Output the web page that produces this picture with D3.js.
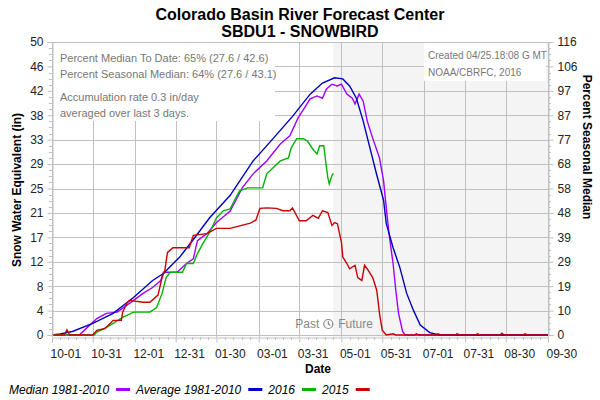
<!DOCTYPE html>
<html>
<head>
<meta charset="utf-8">
<script src="https://cdn.jsdelivr.net/npm/d3@7"></script>
<style>
  body { margin: 0; background: #fff; }
  svg { font-family: "Liberation Sans", Arial, sans-serif; }
</style>
</head>
<body>
<svg width="600" height="400"></svg>
<script>
// water year Oct 2015 - Sep 2016, dates as MM-DD
const xTickLabels = ["10-01", "10-31", "12-01", "12-31", "01-30", "03-01", "03-31",
  "05-01", "05-31", "07-01", "07-31", "08-30", "09-30"];
const leftTickLabels = ["0", "4", "8", "12", "17", "21", "25", "29", "33", "38", "42", "46", "50"];
const rightTickLabels = ["0", "10", "19", "29", "39", "48", "58", "68", "77", "87", "97", "106", "116"];

const seriesNames = ["Median 1981-2010", "Average 1981-2010", "2016", "2015"];
const seriesColors = ["#a000ff", "#0000c0", "#00b400", "#c80000"];

const median = [
  ["10-01", 0], ["10-21", 0], ["10-27", 1.3], ["11-03", 2.8], ["11-10", 3.7], ["11-18", 3.9],
  ["11-27", 5.4], ["12-07", 7.1], ["12-14", 8.1], ["12-20", 9.3], ["12-22", 10.7], ["01-01", 10.7],
  ["01-08", 12.2], ["01-13", 13.0], ["01-16", 16.1], ["01-23", 17.3], ["01-30", 19.2], ["02-09", 21.1],
  ["02-18", 25.1], ["02-26", 27.5], ["03-07", 29.7], ["03-17", 32.6], ["03-24", 34.0], ["03-30", 37.0],
  ["04-08", 40.3], ["04-13", 40.8], ["04-17", 40.4], ["04-20", 42.0], ["04-24", 42.8], ["04-28", 42.5],
  ["05-01", 42.8], ["05-05", 41.1], ["05-09", 40.4], ["05-11", 39.4], ["05-14", 41.1], ["05-17", 39.9],
  ["05-20", 36.5], ["05-24", 33.6], ["05-29", 30.2], ["06-01", 26.3], ["06-03", 21.7], ["06-05", 17.3],
  ["06-08", 12.2], ["06-10", 7.6], ["06-12", 3.7], ["06-15", 0.6], ["06-17", 0], ["09-30", 0]
];

const average = [
  ["10-01", 0], ["10-07", 0.2], ["10-16", 0.6], ["10-31", 2.0], ["11-15", 3.7], ["11-30", 6.4],
  ["12-14", 9.3], ["12-22", 10.5], ["01-03", 13.3], ["01-13", 16.3], ["01-25", 20.0], ["02-09", 23.8],
  ["02-26", 29.7], ["03-12", 33.6], ["03-26", 37.3], ["04-08", 41.1], ["04-17", 43.0], ["04-26", 43.9],
  ["05-02", 43.7], ["05-07", 42.5], ["05-12", 40.4], ["05-17", 36.5], ["05-22", 31.9], ["05-27", 27.3],
  ["06-01", 23.0], ["06-03", 19.0], ["06-08", 14.9], ["06-13", 11.5], ["06-18", 7.1], ["06-23", 4.2],
  ["06-28", 1.7], ["07-05", 0.4], ["07-12", 0], ["09-30", 0]
];

const wy2016 = [
  ["10-01", 0], ["11-01", 0], ["11-03", 0.5], ["11-10", 1.3], ["11-15", 2.0], ["11-22", 3.0],
  ["11-30", 3.9], ["12-12", 3.9], ["12-17", 4.7], ["12-21", 7.1], ["12-24", 9.8], ["12-27", 10.7],
  ["01-05", 10.7], ["01-08", 12.2], ["01-13", 12.2], ["01-16", 13.9], ["01-20", 15.6], ["01-25", 17.5],
  ["01-30", 20.0], ["02-04", 21.2], ["02-09", 21.5], ["02-11", 22.4], ["02-16", 24.6], ["02-22", 25.1],
  ["03-04", 25.1], ["03-07", 27.5], ["03-17", 29.7], ["03-23", 30.2], ["03-25", 31.9], ["03-29", 33.5],
  ["04-03", 33.5], ["04-06", 33.1], ["04-10", 31.7], ["04-13", 30.9], ["04-15", 32.3], ["04-18", 32.3],
  ["04-20", 28.5], ["04-21", 26.8], ["04-22", 25.8], ["04-24", 27.2], ["04-25", 27.6]
];

const wy2015 = [
  ["10-01", 0], ["10-10", 0], ["10-12", 0.9], ["10-14", 0], ["10-31", 0], ["11-03", 0.8],
  ["11-09", 1.1], ["11-15", 2.5], ["11-21", 2.5], ["11-22", 3.9], ["11-25", 5.4], ["11-27", 5.9],
  ["12-07", 5.6], ["12-12", 5.6], ["12-18", 6.8], ["12-21", 9.8], ["12-23", 11.0], ["12-25", 14.1],
  ["12-29", 14.9], ["01-10", 14.9], ["01-13", 17.0], ["01-23", 17.3], ["01-30", 18.2], ["02-09", 18.2],
  ["02-24", 19.1], ["02-28", 19.6], ["03-02", 21.6], ["03-07", 21.7], ["03-14", 21.6], ["03-19", 21.2],
  ["03-24", 21.2], ["03-26", 21.7], ["03-31", 19.5], ["04-05", 19.5], ["04-10", 20.4], ["04-14", 19.9],
  ["04-17", 21.2], ["04-21", 20.9], ["04-24", 18.7], ["04-26", 19.2], ["04-28", 19.0], ["05-01", 15.8],
  ["05-02", 13.3], ["05-05", 12.2], ["05-07", 11.3], ["05-11", 11.9], ["05-13", 9.8], ["05-16", 9.3],
  ["05-18", 11.9], ["05-20", 11.3], ["05-24", 9.8], ["05-27", 7.6], ["05-29", 3.7], ["05-31", 0.8],
  ["06-03", 0], ["06-08", 0.2], ["06-10", 0], ["06-24", 0], ["06-25", 0.2], ["06-27", 0],
  ["07-10", 0], ["07-11", 0.2], ["07-13", 0], ["07-24", 0], ["07-25", 0.2], ["07-27", 0],
  ["08-08", 0], ["08-09", 0.2], ["08-11", 0], ["08-26", 0], ["08-27", 0.3], ["08-29", 0],
  ["09-12", 0], ["09-13", 0.2], ["09-15", 0], ["09-30", 0]
];

const nowDate = "04-25";
const statLines = [
  "Percent Median To Date: 65% (27.6 / 42.6)",
  "Percent Seasonal Median: 64% (27.6 / 43.1)",
  "Accumulation rate 0.3 in/day",
  "averaged over last 3 days."
];
const createdLines = ["Created 04/25.18:08 G MT", "NOAA/CBRFC, 2016"];

const parseMD = (md) => {
  const m = +md.slice(0, 2);
  return new Date(m >= 10 ? 2015 : 2016, m - 1, +md.slice(3));
};

const svg = d3.select("svg");
const plotLeft = 52, plotRight = 548, plotTop = 42, plotBottom = 335;

const x = d3.scaleTime()
  .domain([parseMD("10-01"), parseMD("09-30")])
  .range([plotLeft, plotRight]);
const y = d3.scaleLinear().domain([0, 50]).range([plotBottom, plotTop]);
const yPct = d3.scaleLinear().domain([0, 116]).range([plotBottom, plotTop]);

const grid = "#c0c0c0";
const xTicks = xTickLabels.map(parseMD);
const yTicks = leftTickLabels.map((d, i) => i * 50 / 12);

// future shading
const nx = x(parseMD(nowDate));
svg.append("rect")
  .attr("x", nx)
  .attr("y", plotTop)
  .attr("width", plotRight - nx)
  .attr("height", plotBottom + 2 - plotTop)
  .attr("fill", "#f4f4f4");

// grid
svg.append("g").selectAll("line").data(yTicks).join("line")
  .attr("x1", plotLeft).attr("x2", plotRight)
  .attr("y1", (d) => Math.round(y(d)) + 0.5).attr("y2", (d) => Math.round(y(d)) + 0.5)
  .attr("stroke", grid);
svg.append("g").selectAll("line").data(xTicks).join("line")
  .attr("x1", (d) => Math.round(x(d)) + 0.5).attr("x2", (d) => Math.round(x(d)) + 0.5)
  .attr("y1", plotTop).attr("y2", plotBottom + 2)
  .attr("stroke", grid);

// stat boxes
svg.append("rect").attr("x", plotLeft + 1).attr("y", plotTop + 1).attr("width", 222).attr("height", 78).attr("fill", "#fff");
svg.append("rect").attr("x", 424).attr("y", plotTop + 1).attr("width", 122).attr("height", 38).attr("fill", "#fff");

svg.append("g").selectAll("text").data(statLines).join("text")
  .attr("x", 60)
  .attr("y", (d, i) => [62, 78, 101, 117][i])
  .attr("font-size", 11)
  .attr("fill", "#777")
  .text((d) => d);
svg.append("g").selectAll("text").data(createdLines).join("text")
  .attr("x", 428)
  .attr("y", (d, i) => 59 + i * 17)
  .attr("font-size", 10)
  .attr("fill", "#777")
  .text((d) => d);

// past / future marker
svg.append("text").attr("x", nx - 14).attr("y", 328).attr("text-anchor", "end")
  .attr("font-size", 12).attr("fill", "#888").text("Past");
svg.append("text").attr("x", nx + 5).attr("y", 328)
  .attr("font-size", 12).attr("fill", "#888").text("Future");
const clock = svg.append("g").attr("transform", `translate(${nx - 5},324)`)
  .attr("fill", "none").attr("stroke", "#888").attr("stroke-width", 1.2);
clock.append("circle").attr("r", 4.5);
clock.append("path").attr("d", "M0,-3V0L2,1.5");

// series
const line = d3.line()
  .x((d) => x(parseMD(d[0])))
  .y((d) => y(d[1]));
[median, average, wy2016, wy2015].forEach((s, i) => {
  svg.append("path")
    .datum(s)
    .attr("d", line)
    .attr("fill", "none")
    .attr("stroke", seriesColors[i])
    .attr("stroke-width", 1.4);
});

// axes
const minor = (ticks, n) => {
  const out = [];
  for (let i = 0; i < ticks.length - 1; i++) {
    for (let k = 1; k < n; k++) out.push(ticks[i] + (ticks[i + 1] - ticks[i]) * k / n);
  }
  return out;
};

const leftAxis = d3.axisLeft(y).tickValues(yTicks).tickFormat((d, i) => leftTickLabels[i]).tickSize(5).tickPadding(4);
const gl = svg.append("g").attr("transform", `translate(${plotLeft + 0.5},0)`).call(leftAxis);
const pctTicks = rightTickLabels.map((d, i) => i * 116 / 12);
const rightAxis = d3.axisRight(yPct).tickValues(pctTicks).tickFormat((d, i) => rightTickLabels[i]).tickSize(5).tickPadding(4);
const gr = svg.append("g").attr("transform", `translate(${plotRight + 0.5},0)`).call(rightAxis);
const bottomAxis = d3.axisBottom(x).tickValues(xTicks).tickFormat((d, i) => xTickLabels[i]).tickSize(5).tickPadding(7);
const gb = svg.append("g").attr("transform", `translate(0,${plotBottom + 2.5})`).call(bottomAxis);

[gl, gr, gb].forEach((g) => {
  g.select(".domain").attr("stroke", grid);
  g.selectAll(".tick line").attr("stroke", grid);
  g.selectAll(".tick text").attr("font-size", 12).attr("fill", "#222")
    .attr("font-family", "'Liberation Sans', Arial, sans-serif");
});
gb.selectAll(".tick text").attr("text-anchor", "start").attr("dx", -2);

svg.append("g").selectAll("line").data(minor(yTicks, 4)).join("line")
  .attr("x1", plotLeft - 3).attr("x2", plotLeft)
  .attr("y1", (d) => Math.round(y(d)) + 0.5).attr("y2", (d) => Math.round(y(d)) + 0.5)
  .attr("stroke", grid);
svg.append("g").selectAll("line").data(minor(pctTicks, 4)).join("line")
  .attr("x1", plotRight).attr("x2", plotRight + 3)
  .attr("y1", (d) => Math.round(yPct(d)) + 0.5).attr("y2", (d) => Math.round(yPct(d)) + 0.5)
  .attr("stroke", grid);
const xTickMs = xTicks.map((d) => +d);
svg.append("g").selectAll("line").data(minor(xTickMs, 5)).join("line")
  .attr("x1", (d) => Math.round(x(d)) + 0.5).attr("x2", (d) => Math.round(x(d)) + 0.5)
  .attr("y1", plotBottom + 2).attr("y2", plotBottom + 5)
  .attr("stroke", grid);

// titles
svg.append("text").attr("x", 300).attr("y", 20).attr("text-anchor", "middle")
  .attr("font-size", 16).attr("font-weight", "bold").text("Colorado Basin River Forecast Center");
svg.append("text").attr("x", 300).attr("y", 37).attr("text-anchor", "middle")
  .attr("font-size", 16).attr("font-weight", "bold").text("SBDU1 - SNOWBIRD");
svg.append("text").attr("x", 318).attr("y", 373).attr("text-anchor", "middle")
  .attr("font-size", 12).attr("font-weight", "bold").text("Date");
svg.append("text").attr("transform", "translate(21,190) rotate(-90)").attr("text-anchor", "middle")
  .attr("font-size", 12).attr("font-weight", "bold").text("Snow Water Equivalent (in)");
svg.append("text").attr("transform", "translate(583,147) rotate(90)").attr("text-anchor", "middle")
  .attr("font-size", 12).attr("font-weight", "bold").text("Percent Seasonal Median");

// legend: label then swatch
const legend = svg.append("g").attr("font-size", 12).attr("font-style", "italic");
let lx = 9;
seriesNames.forEach((name, i) => {
  const t = legend.append("text").attr("x", lx).attr("y", 394).text(name);
  const w = t.node().getComputedTextLength();
  legend.append("rect").attr("x", lx + w + 7).attr("y", 388).attr("width", 14).attr("height", 3)
    .attr("fill", seriesColors[i]);
  lx += w + 7 + 14 + 6;
});
</script>
</body>
</html>
